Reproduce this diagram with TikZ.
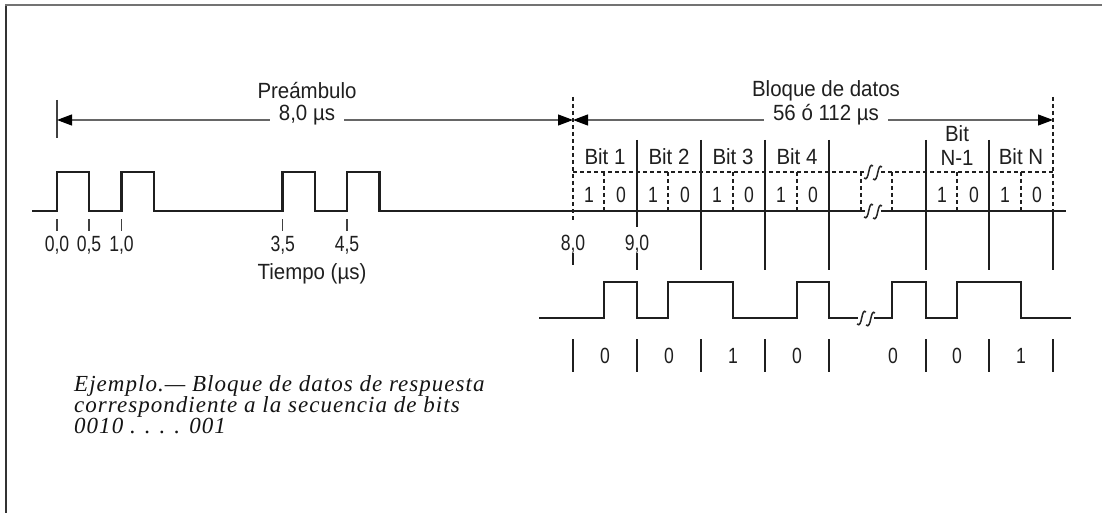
\documentclass[tikz,border=0pt]{standalone}
\usepackage{fontspec}
\setmainfont{Liberation Sans}
\newfontfamily\lab[FakeStretch=0.93]{Liberation Sans}
\newfontfamily\numfont[FakeStretch=0.8]{Liberation Sans}
\newfontfamily\capfont[LetterSpace=4.5]{Liberation Serif}
\usetikzlibrary{arrows.meta}
\tikzset{
  brk/.pic={
    \fill[white] (-8,-10) rectangle (8,10);
    \draw[line width=1.5pt, black!85] (-9,6) .. controls (-3.5,11) and (-5,-11) .. (0,-6);
    \draw[line width=1.5pt, black!85] (0,7) .. controls (5.5,12) and (4,-10) .. (9,-5);
  }
}
\begin{document}
\begin{tikzpicture}[x=1pt,y=-1pt,
  sig/.style={line width=2.6pt, line join=miter, black!88},
  tck/.style={line width=1.3pt, black!75},
  sep/.style={line width=2.6pt, black!88},
  smt/.style={line width=2pt, black!88},
  dsh/.style={line width=1.9pt, dash pattern=on 4pt off 3pt, black!88},
  dim/.style={line width=1.1pt, black!60,
    {Triangle[length=15pt,width=11pt,color=black]}-{Triangle[length=15pt,width=11pt,color=black]}},
  lbl/.style={font=\lab\fontsize{22}{24}\selectfont, inner sep=0pt, anchor=base, text=black!88},
  nlbl/.style={lbl, font=\numfont\fontsize{22}{24}\selectfont},
  dlbl/.style={lbl, fill=white, inner xsep=9pt, inner ysep=2pt},
  captxt/.style={font=\capfont\itshape\fontsize{23}{20}\selectfont, inner sep=0pt, anchor=base west, text=black!92}
]
\useasboundingbox (0,0) rectangle (1102,513);
% frame
\draw[line width=2pt, black!80] (6,513) -- (6,5);
\draw[line width=2pt, black!55] (5,5) -- (1102,5);

% preamble signal and baseline
\draw[sig] (32,211) -- (57,211) -- (57,172) -- (89,172) -- (89,211)
  -- (121.5,211) -- (121.5,172) -- (154,172) -- (154,211)
  -- (282.75,211) -- (282.75,172) -- (315,172) -- (315,211)
  -- (347,211) -- (347,172) -- (379.5,172) -- (379.5,211) -- (1066,211);

% preamble ticks and labels
\draw[tck] (57,219) -- (57,231);
\draw[tck] (89,219) -- (89,231);
\draw[tck] (121.5,219) -- (121.5,231);
\draw[tck] (282.75,219) -- (282.75,231);
\draw[tck] (347,219) -- (347,231);
\node[nlbl] (l00) at (57,251) {0,0};
\node[nlbl] (l05) at (89,251) {0,5};
\node[nlbl] (l10) at (121.5,251) {1,0};
\node[nlbl] (l35) at (282.75,251) {3,5};
\node[nlbl] (l45) at (347,251) {4,5};
\node[lbl] (tiempo) at (312,279) {Tiempo (µs)};

% preamble dimension
\draw[tck] (57,100) -- (57,138);
\coordinate (pa) at (57,120);
\coordinate (pb) at (573,120);
\draw[dim] (pa) -- (pb);
\node[dlbl] (predur) at (307,121) {8,0 µs};
\node[lbl] (pre) at (307,99) {Preámbulo};

% data block dimension
\coordinate (da) at (573,120);
\coordinate (db) at (1053,120);
\draw[dim] (da) -- (db);
\node[dlbl] (blqdur) at (826,121) {56 ó 112 µs};
\node[lbl] (blq) at (826,97) {Bloque de datos};

% dashed frame of the data block
\draw[dsh] (573,97) -- (573,222);
\draw[dsh] (1053,97) -- (1053,211);
\draw[sep] (1053,211) -- (1053,270);
\draw[dsh] (573,172) -- (1053,172);
\foreach \x in {604,668,733,797,861,892,957,1021}
  \draw[dsh] (\x,172) -- (\x,211);

% bit separators
\draw[sep] (637,140) -- (637,227);
\draw[smt] (637,253) -- (637,270);
\draw[smt] (573,253) -- (573,265);
\foreach \x in {701,765,829,926,989}
  \draw[sep] (\x,140) -- (\x,270);
\node[nlbl] (l80) at (573,250) {8,0};
\node[nlbl] (l90) at (637,250) {9,0};

% bit labels
\node[lbl] (b1) at (605,165) {Bit 1};
\node[lbl] (b2) at (669,165) {Bit 2};
\node[lbl] (b3) at (733,165) {Bit 3};
\node[lbl] (b4) at (797,165) {Bit 4};
\node[lbl] (bn1a) at (957,142) {Bit};
\node[lbl] (bn1b) at (957,166) {N-1};
\node[lbl] (bn) at (1021,165) {Bit N};

% 1/0 halves
\foreach \x [count=\i] in {573,637,701,765,926,989} {
  \node[nlbl] (one\i) at (\x+16,202) {1};
  \node[nlbl] (zero\i) at (\x+48,202) {0};
}

% breaks on upper part
\pic at (873,172) {brk};
\pic at (873,211) {brk};

% lower signal
\draw[sig] (539,318) -- (604,318) -- (604,282) -- (637,282) -- (637,318)
  -- (668,318) -- (668,282) -- (733,282) -- (733,318)
  -- (797,318) -- (797,282) -- (829,282) -- (829,318) -- (880,318)
  -- (892,318) -- (892,282) -- (926,282) -- (926,318)
  -- (957,318) -- (957,282) -- (1021,282) -- (1021,318) -- (1071,318);
\pic at (866,318) {brk};

% lower bit ticks and values
\foreach \x in {573,637,701,765,829,926,989,1053}
  \draw[sep] (\x,339) -- (\x,372);
\node[nlbl] (v1) at (605,363) {0};
\node[nlbl] (v2) at (669,363) {0};
\node[nlbl] (v3) at (733,363) {1};
\node[nlbl] (v4) at (797,363) {0};
\node[nlbl] (v5) at (893,363) {0};
\node[nlbl] (v6) at (957,363) {0};
\node[nlbl] (v7) at (1021,363) {1};

% caption
\node[captxt] (cap1) at (74,391) {Ejemplo.— Bloque de datos de respuesta};
\node[captxt] (cap2) at (74,412) {correspondiente a la secuencia de bits};
\node[captxt] (cap3) at (74,433) {0010 . . . . 001};
\end{tikzpicture}
\end{document}
